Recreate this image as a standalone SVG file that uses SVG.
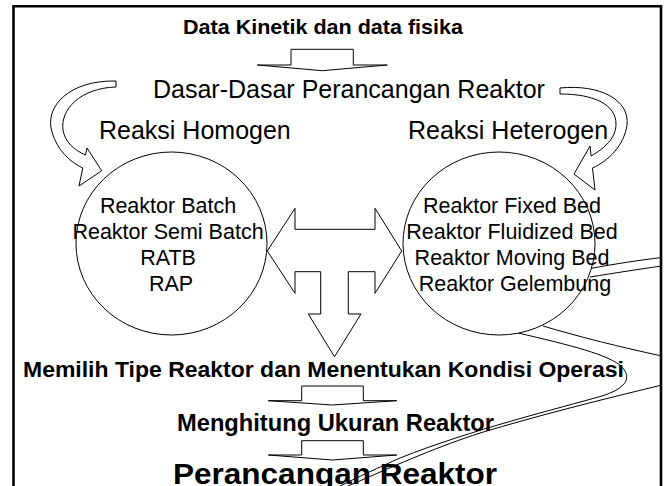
<svg xmlns="http://www.w3.org/2000/svg" width="666" height="486" viewBox="0 0 666 486">
  <style>
    .shape { fill: #ffffff; stroke: #000000; stroke-width: 1; stroke-linejoin: miter; }
    .line { fill: none; stroke: #000000; stroke-width: 1; }
    .reg { font-family: "Liberation Sans", Arial, sans-serif; fill: #000000; }
    .bold { font-family: "Liberation Sans", Arial, sans-serif; font-weight: bold; fill: #000000; }
    .frame { fill: none; stroke: #000000; stroke-width: 2.6; }
  </style>

  <rect x="0" y="0" width="666" height="486" fill="#ffffff"/>
  <path class="frame" d="M13.5,490 V6.3 H661 V490"/>

  <!-- connectors: block arrows and the long double-line band -->
  <g id="connectors">
    <!-- long band passing behind the right circle -->
    <path class="line" d="M590,268.5 C615,264 640,260 662,257.5"/>
    <path class="line" d="M590,277 C615,273 640,269 662,266"/>
    <path class="line" d="M543,326 C580,337 620,347 662,356"/>
    <path class="line" d="M518,333 C570,345 610,355 622,367 C633,379 624,389 602,396 C560,408 470,430 400,458 C380,467 356,478 338,487"/>
    <path class="line" d="M662,385 C600,400 540,415 480,433 C440,446 405,461 346,487"/>

    <!-- top down arrow -->
    <polygon class="shape" points="257.3,65 291,65 291,49.3 353.3,49.3 353.3,65 387.3,65 322.3,70.7"/>

    <!-- curved arrow, left -->
    <path class="shape" d="M116,81 C70,80 44,106 52,132 C57,150 70,162 82.8,168 L79,186 L101.7,170.7 L87,148 L85.5,155 C74,150 65,142 63,130 C60,110 80,88 116,87 Z"/>

    <!-- curved arrow, right -->
    <path class="shape" d="M560,88 C600,84 630,100 627,125 C624,146 608,161 592.5,168 L595,190 L574,174 L590,146 L591.1,156 C605,148 616,138 616,124 C616,105 595,94 560,94 Z"/>

    <!-- three-way T arrow between the circles -->
    <polygon class="shape" points="267.3,251 295,208.3 295,229.3 375,229.3 375,208.3 401.7,251 375,293.3 375,271.7 348.3,271.7 348.3,314 361,314 334.5,356.7 308.3,314 320.7,314 320.7,271.7 295,271.7 295,293.3"/>

    <!-- lower down arrows -->
    <polygon class="shape" points="268.3,400.7 301.7,400.7 301.7,386 363.3,386 363.3,400.7 396.7,400.7 332.5,405"/>
    <polygon class="shape" points="268.3,455 301.7,455 301.7,440.7 363.3,440.7 363.3,455 396.7,455 332.5,460"/>
  </g>

  <g id="data-kinetik">
    <text class="bold" x="183" y="34" font-size="21" textLength="280" lengthAdjust="spacingAndGlyphs">Data Kinetik dan data fisika</text>
  </g>

  <g id="dasar">
    <text class="reg" x="153" y="97.5" font-size="25">Dasar-Dasar Perancangan Reaktor</text>
  </g>

  <g id="homogen">
    <text class="reg" x="99" y="139" font-size="25">Reaksi Homogen</text>
  </g>

  <g id="heterogen">
    <text class="reg" x="408" y="139" font-size="25">Reaksi Heterogen</text>
  </g>

  <g id="reaktor-homogen">
    <ellipse class="shape" cx="171.5" cy="243.5" rx="95.5" ry="91.5"/>
    <text class="reg" x="171" font-size="21.5" text-anchor="middle">
      <tspan x="171" y="213">Reaktor Batch</tspan>
      <tspan x="171" y="239">Reaktor Semi Batch</tspan>
      <tspan x="171" y="265">RATB</tspan>
      <tspan x="171" y="291">RAP</tspan>
    </text>
  </g>

  <g id="reaktor-heterogen">
    <ellipse class="shape" cx="499" cy="243.5" rx="96" ry="91.5"/>
    <text class="reg" x="515" font-size="21.5" text-anchor="middle">
      <tspan x="515" y="213">Reaktor Fixed Bed</tspan>
      <tspan x="515" y="239">Reaktor Fluidized Bed</tspan>
      <tspan x="515" y="265">Reaktor Moving Bed</tspan>
      <tspan x="515" y="291">Reaktor Gelembung</tspan>
    </text>
  </g>

  <g id="memilih">
    <text class="bold" x="23" y="377" font-size="22" textLength="601" lengthAdjust="spacingAndGlyphs">Memilih Tipe Reaktor dan Menentukan Kondisi Operasi</text>
  </g>

  <g id="menghitung">
    <text class="bold" x="177" y="431" font-size="24" textLength="317" lengthAdjust="spacingAndGlyphs">Menghitung Ukuran Reaktor</text>
  </g>

  <g id="perancangan">
    <text class="bold" x="173" y="484" font-size="30" textLength="324" lengthAdjust="spacingAndGlyphs">Perancangan Reaktor</text>
  </g>
</svg>
